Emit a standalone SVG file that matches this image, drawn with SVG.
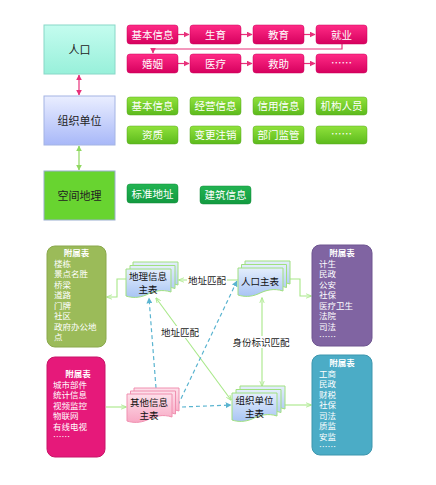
<svg xmlns="http://www.w3.org/2000/svg" width="436" height="485" viewBox="0 0 436 485">
<style>
text{font-family:"Noto Sans CJK SC","Liberation Sans",sans-serif}
.lb{font-size:11px;fill:#222;text-anchor:middle}
.wb{font-size:10.5px;fill:#fff;text-anchor:middle}
.mt{font-size:9.5px;fill:#111;text-anchor:middle}
.at{font-size:8.5px;fill:#fff}
.ah{font-weight:bold;text-anchor:middle}
.cl{font-size:9.5px;fill:#222;text-anchor:middle}
.pk{fill:url(#gPink);stroke:#c8005a;stroke-width:0.5}
.gr{fill:url(#gGreen);stroke:#5aa820;stroke-width:0.5}
.dg{fill:url(#gDark);stroke:#108a38;stroke-width:0.5}
.pl{stroke:#e8307a;stroke-width:1.2;fill:none}
.gl{stroke:#a8e888;stroke-width:1.1;fill:none}
.bd{stroke:#5ab4d0;stroke-width:1.2;fill:none;stroke-dasharray:4 3}
.docb{fill:url(#gBlue);stroke:#a0e080;stroke-width:1}
.docp{fill:url(#gPk2);stroke:#f090b0;stroke-width:1}
</style>
<defs>
<linearGradient id="gPink" x1="0" y1="0" x2="0" y2="1"><stop offset="0" stop-color="#ff2b86"/><stop offset="1" stop-color="#d6005e"/></linearGradient>
<linearGradient id="gGreen" x1="0" y1="0" x2="0" y2="1"><stop offset="0" stop-color="#90e23c"/><stop offset="1" stop-color="#5cba1c"/></linearGradient>
<linearGradient id="gDark" x1="0" y1="0" x2="0" y2="1"><stop offset="0" stop-color="#22b452"/><stop offset="1" stop-color="#129a40"/></linearGradient>
<linearGradient id="gTeal" x1="0" y1="0" x2="0" y2="1"><stop offset="0" stop-color="#c4fcef"/><stop offset="1" stop-color="#98f0da"/></linearGradient>
<linearGradient id="gLav" x1="0" y1="0" x2="0" y2="1"><stop offset="0" stop-color="#eaeeff"/><stop offset="1" stop-color="#a8b8f8"/></linearGradient>
<linearGradient id="gBlue" x1="0" y1="0" x2="0" y2="1"><stop offset="0" stop-color="#e4eefc"/><stop offset="1" stop-color="#a8c4f4"/></linearGradient>
<linearGradient id="gPk2" x1="0" y1="0" x2="0" y2="1"><stop offset="0" stop-color="#fde0ea"/><stop offset="1" stop-color="#f8a8c4"/></linearGradient>
<path id="doc" d="M0,0 H45 V23 C36,20 28,22 20,26 C13,29 6,29 0,27 Z"/>
<marker id="mP" viewBox="0 0 10 10" refX="9" refY="5" markerWidth="5" markerHeight="5" orient="auto-start-reverse"><path d="M0,0 L10,5 L0,10 Z" fill="#e8307a"/></marker>
<marker id="mG" viewBox="0 0 10 10" refX="9" refY="5" markerWidth="5" markerHeight="5" orient="auto-start-reverse"><path d="M0,0 L10,5 L0,10 Z" fill="#90d860"/></marker>
<marker id="mL" viewBox="0 0 10 10" refX="9" refY="5" markerWidth="5" markerHeight="5" orient="auto-start-reverse"><path d="M0,1 L10,5 L0,9" fill="none" stroke="#a8e888" stroke-width="1.5"/></marker>
<marker id="mB" viewBox="0 0 10 10" refX="9" refY="5" markerWidth="5" markerHeight="5" orient="auto-start-reverse"><path d="M0,0 L10,5 L0,10 Z" fill="#5ab4d0"/></marker>
</defs>

<g id="connectors">
<line class="pl" x1="79" y1="75" x2="79" y2="95" marker-start="url(#mP)" marker-end="url(#mP)"/>
<line x1="79" y1="146" x2="79" y2="170" stroke="#90d860" stroke-width="1.2" marker-start="url(#mG)" marker-end="url(#mG)"/>
<line class="pl" x1="178" y1="34.5" x2="189" y2="34.5" marker-end="url(#mP)"/>
<line class="pl" x1="241" y1="34.5" x2="252" y2="34.5" marker-end="url(#mP)"/>
<line class="pl" x1="304" y1="34.5" x2="315" y2="34.5" marker-end="url(#mP)"/>
<polyline class="pl" points="342,44 342,49 153,49 153,53" marker-end="url(#mP)"/>
<line class="pl" x1="178" y1="63.5" x2="189" y2="63.5" marker-end="url(#mP)"/>
<line class="pl" x1="241" y1="63.5" x2="252" y2="63.5" marker-end="url(#mP)"/>
<line class="pl" x1="304" y1="63.5" x2="315" y2="63.5" marker-end="url(#mP)"/>

<polyline class="gl" points="127,279 117,279 117,297 107,297" marker-end="url(#mL)"/>
<polyline class="gl" points="289,279 300,279 300,296 311,296" marker-end="url(#mL)"/>
<line class="gl" x1="106" y1="407" x2="126" y2="407" marker-end="url(#mL)"/>
<line class="gl" x1="284" y1="405" x2="311" y2="405" marker-end="url(#mL)"/>
<line class="gl" x1="238" y1="280" x2="179" y2="280" marker-end="url(#mL)"/>
<line class="gl" x1="262" y1="298" x2="262" y2="386" marker-start="url(#mL)" marker-end="url(#mL)"/>
<line class="gl" x1="156" y1="298" x2="231" y2="400" marker-start="url(#mL)" marker-end="url(#mL)"/>
<line class="bd" x1="156" y1="388" x2="149" y2="298" marker-end="url(#mB)"/>
<line class="bd" x1="178" y1="405" x2="237" y2="281" marker-end="url(#mB)"/>
<line class="bd" x1="182" y1="407" x2="231" y2="405" marker-end="url(#mB)"/>

<rect x="187" y="274" width="40" height="12" fill="#fff"/>
<text class="cl" x="207" y="283.5">地址匹配</text>
<rect x="232" y="336" width="58" height="12" fill="#fff"/>
<text class="cl" x="261" y="345.5">身份标识匹配</text>
<rect x="160" y="326" width="40" height="12" fill="#fff"/>
<text class="cl" x="180" y="335.5">地址匹配</text>
</g>

<g id="renkou">
<rect x="44" y="25" width="71" height="49" fill="url(#gTeal)" stroke="#88d8c8"/>
<text class="lb" x="79.5" y="53.5">人口</text>
</g>
<g id="zuzhi">
<rect x="44" y="96" width="71" height="49" fill="url(#gLav)" stroke="#a4b4e4"/>
<text class="lb" x="79.5" y="124.5">组织单位</text>
</g>
<g id="kongjian">
<rect x="44" y="171" width="71" height="49" fill="#68d430" stroke="#9aaed0"/>
<text class="lb" x="79.5" y="199.5">空间地理</text>
</g>

<g id="pink-row1">
<rect class="pk" x="127" y="25" width="51" height="19" rx="3"/><text class="wb" x="152.5" y="38.5">基本信息</text>
<rect class="pk" x="190" y="25" width="51" height="19" rx="3"/><text class="wb" x="215.5" y="38.5">生育</text>
<rect class="pk" x="253" y="25" width="51" height="19" rx="3"/><text class="wb" x="278.5" y="38.5">教育</text>
<rect class="pk" x="316" y="25" width="51" height="19" rx="3"/><text class="wb" x="341.5" y="38.5">就业</text>
</g>
<g id="pink-row2">
<rect class="pk" x="127" y="54" width="51" height="19" rx="3"/><text class="wb" x="152.5" y="67.5">婚姻</text>
<rect class="pk" x="190" y="54" width="51" height="19" rx="3"/><text class="wb" x="215.5" y="67.5">医疗</text>
<rect class="pk" x="253" y="54" width="51" height="19" rx="3"/><text class="wb" x="278.5" y="67.5">救助</text>
<rect class="pk" x="316" y="54" width="51" height="19" rx="3"/><text class="wb" x="341.5" y="66.5">……</text>
</g>
<g id="green-row1">
<rect class="gr" x="127" y="97" width="51" height="18" rx="3"/><text class="wb" x="152.5" y="110">基本信息</text>
<rect class="gr" x="190" y="97" width="51" height="18" rx="3"/><text class="wb" x="215.5" y="110">经营信息</text>
<rect class="gr" x="253" y="97" width="51" height="18" rx="3"/><text class="wb" x="278.5" y="110">信用信息</text>
<rect class="gr" x="316" y="97" width="51" height="18" rx="3"/><text class="wb" x="341.5" y="110">机构人员</text>
</g>
<g id="green-row2">
<rect class="gr" x="127" y="126" width="51" height="18" rx="3"/><text class="wb" x="152.5" y="139">资质</text>
<rect class="gr" x="190" y="126" width="51" height="18" rx="3"/><text class="wb" x="215.5" y="139">变更注销</text>
<rect class="gr" x="253" y="126" width="51" height="18" rx="3"/><text class="wb" x="278.5" y="139">部门监管</text>
<rect class="gr" x="316" y="126" width="51" height="18" rx="3"/><text class="wb" x="341.5" y="138">……</text>
</g>
<g id="dark-row">
<rect class="dg" x="127" y="184" width="51" height="19" rx="3"/><text class="wb" x="152.5" y="197.5">标准地址</text>
<rect class="dg" x="200" y="186" width="51" height="18" rx="3"/><text class="wb" x="225.5" y="199">建筑信息</text>
</g>

<g id="fushu-green">
<rect x="47" y="246" width="59" height="101" rx="8" fill="#9bbb59" stroke="#8aa84c"/>
<text class="at"><tspan class="ah" x="76.5" y="256">附属表</tspan><tspan x="54" y="266.5">楼栋</tspan><tspan x="54" y="277">景点名胜</tspan><tspan x="54" y="287.5">桥梁</tspan><tspan x="54" y="298">道路</tspan><tspan x="54" y="308.5">门牌</tspan><tspan x="54" y="319">社区</tspan><tspan x="54" y="329.5">政府办公地</tspan><tspan x="54" y="340">点</tspan></text>
</g>
<g id="fushu-pink">
<rect x="47" y="357" width="58" height="100" rx="8" fill="#e6197a" stroke="#c81468"/>
<text class="at"><tspan class="ah" x="78" y="377">附属表</tspan><tspan x="53" y="387.5">城市部件</tspan><tspan x="53" y="398">统计信息</tspan><tspan x="53" y="408.5">视频监控</tspan><tspan x="53" y="419">物联网</tspan><tspan x="53" y="429.5">有线电视</tspan><tspan x="53" y="440">……</tspan></text>
</g>
<g id="fushu-purple">
<rect x="312" y="245" width="60" height="101" rx="8" fill="#8064a2" stroke="#6e5590"/>
<text class="at"><tspan class="ah" x="342" y="256">附属表</tspan><tspan x="319" y="266.5">计生</tspan><tspan x="319" y="277">民政</tspan><tspan x="319" y="287.5">公安</tspan><tspan x="319" y="298">社保</tspan><tspan x="319" y="308.5">医疗卫生</tspan><tspan x="319" y="319">法院</tspan><tspan x="319" y="329.5">司法</tspan><tspan x="319" y="340">……</tspan></text>
</g>
<g id="fushu-teal">
<rect x="312" y="355" width="60" height="100" rx="8" fill="#4bacc6" stroke="#3d96ae"/>
<text class="at"><tspan class="ah" x="342" y="366">附属表</tspan><tspan x="319" y="376.5">工商</tspan><tspan x="319" y="387">民政</tspan><tspan x="319" y="397.5">财税</tspan><tspan x="319" y="408">社保</tspan><tspan x="319" y="418.5">司法</tspan><tspan x="319" y="429">质监</tspan><tspan x="319" y="439.5">安监</tspan><tspan x="319" y="450">……</tspan></text>
</g>

<g id="dili-master">
<use href="#doc" class="docb" x="133" y="262"/>
<use href="#doc" class="docb" x="130" y="265.5"/>
<use href="#doc" class="docb" x="126" y="269"/>
<text class="mt"><tspan x="148" y="280">地理信息</tspan><tspan x="148" y="292.5">主表</tspan></text>
</g>
<g id="renkou-master">
<use href="#doc" class="docb" x="245" y="261"/>
<use href="#doc" class="docb" x="241.5" y="264.5"/>
<use href="#doc" class="docb" x="238" y="268"/>
<text class="mt" x="260" y="285">人口主表</text>
</g>
<g id="qita-master">
<use href="#doc" class="docp" x="134" y="388"/>
<use href="#doc" class="docp" x="130.5" y="391"/>
<use href="#doc" class="docp" x="127" y="394"/>
<text class="mt"><tspan x="149" y="406">其他信息</tspan><tspan x="149" y="418.5">主表</tspan></text>
</g>
<g id="zuzhi-master">
<use href="#doc" class="docb" x="240" y="386"/>
<use href="#doc" class="docb" x="236" y="389.5"/>
<use href="#doc" class="docb" x="232" y="393"/>
<text class="mt"><tspan x="254.5" y="404">组织单位</tspan><tspan x="254.5" y="416.5">主表</tspan></text>
</g>
</svg>
